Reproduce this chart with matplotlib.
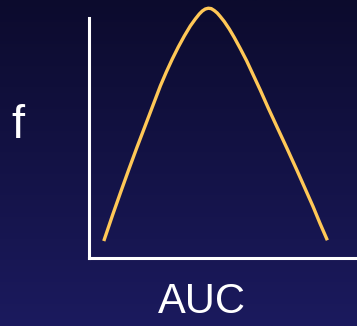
import numpy as np
import matplotlib
matplotlib.use("Agg")
import matplotlib.pyplot as plt
from matplotlib.colors import LinearSegmentedColormap

# Sampling distribution of the AUC (sketch of the density f)
auc = [0.0569, 0.0903, 0.1204, 0.1498, 0.1799, 0.2097, 0.2394, 0.2677,
       0.2900, 0.3123, 0.3346, 0.3569, 0.3792, 0.3978, 0.4126, 0.4238,
       0.4349, 0.4461, 0.4572, 0.4684, 0.4796, 0.4907, 0.5056, 0.5242,
       0.5428, 0.5651, 0.5892, 0.6134, 0.6394, 0.6691, 0.7026, 0.7398,
       0.7770, 0.8067, 0.8364, 0.8625, 0.8896]
density = [0.0688, 0.1792, 0.2750, 0.3667, 0.4583, 0.5458, 0.6333, 0.7167,
           0.7750, 0.8292, 0.8792, 0.9250, 0.9667, 0.9958, 1.0167, 1.0292,
           1.0375, 1.0408, 1.0392, 1.0313, 1.0208, 1.0063, 0.9854, 0.9542,
           0.9188, 0.8729, 0.8208, 0.7625, 0.7000, 0.6250, 0.5438, 0.4542,
           0.3625, 0.2875, 0.2125, 0.1417, 0.0721]

W, H = 357, 326
fig = plt.figure(figsize=(W / 100, H / 100), dpi=100)

# navy vertical gradient backdrop
bg = fig.add_axes([0, 0, 1, 1])
bg.set_axis_off()
cmap = LinearSegmentedColormap.from_list("navy", ["#0c0b2d", "#1b1a5e"])
grad = np.linspace(0, 1, 256).reshape(-1, 1)
bg.imshow(grad, aspect="auto", cmap=cmap, extent=[0, 1, 0, 1], origin="upper")

left = 88.5 / W
bottom = (H - 257.5) / H
top = (H - 18) / H
ax = fig.add_axes([left, bottom, 1 - left, top - bottom])
ax.patch.set_alpha(0)
ax.set_xlim(0, 1)
ax.set_ylim(0, 1)
for side in ("top", "right"):
    ax.spines[side].set_visible(False)
for side in ("left", "bottom"):
    ax.spines[side].set_color("white")
    ax.spines[side].set_linewidth(2.2)
    ax.spines[side].set_capstyle("projecting")
ax.set_xticks([])
ax.set_yticks([])

ax.plot(auc, density, color="#ffc857", linewidth=2.4, clip_on=False,
        solid_joinstyle="round", solid_capstyle="butt")

fig.text(18 / W, 1 - 126 / H, "f", color="white", fontsize=34,
         family="Liberation Sans", ha="center", va="center")
fig.text(201.5 / W, 1 - 302 / H, "AUC", color="white", fontsize=30,
         family="Liberation Sans", ha="center", va="center")

fig.savefig("out.png", dpi=100)
